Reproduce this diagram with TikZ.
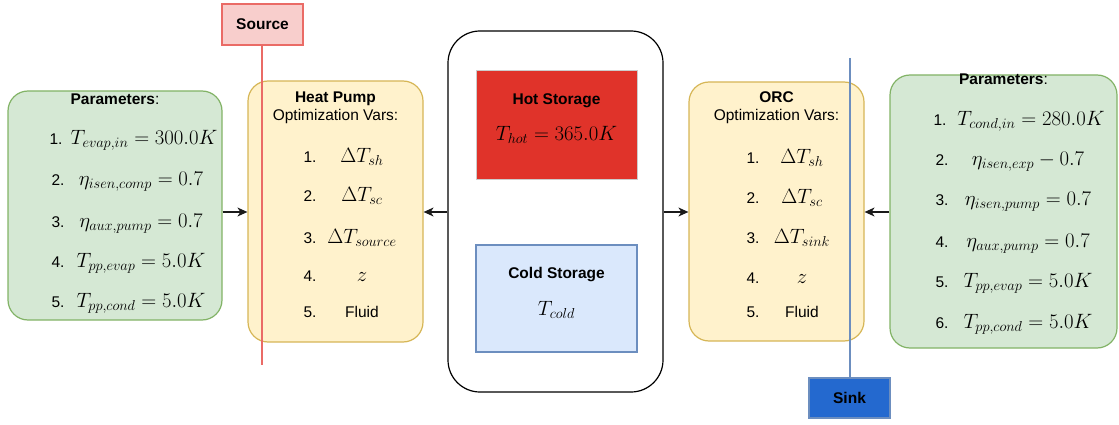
\documentclass[tikz,border=0pt]{standalone}
\usepackage[no-math]{fontspec}
\setmainfont{Liberation Sans}
\usetikzlibrary{arrows.meta}
\definecolor{gfill}{HTML}{D5E8D4}
\definecolor{gdraw}{HTML}{82B366}
\definecolor{yfill}{HTML}{FFF2CC}
\definecolor{ydraw}{HTML}{D6B656}
\definecolor{sfill}{HTML}{F8CECC}
\definecolor{sdraw}{HTML}{EA6B66}
\definecolor{hfill}{HTML}{E0332A}
\definecolor{hdraw}{HTML}{CCCCCC}
\definecolor{cfill}{HTML}{DAE8FC}
\definecolor{cdraw}{HTML}{6C8EBF}
\definecolor{kfill}{HTML}{2469CF}
\definecolor{adraw}{HTML}{1A1A1A}
\tikzset{
  gbox/.style={fill=gfill, draw=gdraw, rounded corners=20pt, line width=1.2pt, inner sep=0pt},
  ybox/.style={fill=yfill, draw=ydraw, rounded corners=20pt, line width=1.2pt, inner sep=0pt},
  txt/.style={anchor=base, inner sep=0pt, font=\fontsize{15.5}{18}\selectfont},
  btxt/.style={anchor=base, inner sep=0pt, font=\fontsize{15.5}{18}\selectfont\bfseries},
  mth/.style={anchor=base, inner sep=0pt, font=\fontsize{19.5}{23}\selectfont},
  conn/.style={draw=adraw, line width=1.2pt, -{Stealth[length=10pt,width=9pt,inset=3pt]}},
}
\begin{document}
\begin{tikzpicture}[x=1pt,y=-1pt]
\useasboundingbox (0,0) rectangle (1119,425);

% left parameters
\node[gbox, minimum width=214pt, minimum height=229pt] (lg) at (115,205.5) {};
\node[txt] (lgt) at (115,105) {\textbf{Parameters}:};
\node[txt] (ln1) at (56,144.5) {1.};
\node[mth] (lf1) at (144,144.5) {$T_{evap,in} = 300.0K$};
\node[txt] (ln2) at (58,185.5) {2.};
\node[mth] (lf2) at (141,185.5) {$\eta_{isen,comp} = 0.7$};
\node[txt] (ln3) at (58,227.5) {3.};
\node[mth] (lf3) at (141,227.5) {$\eta_{aux,pump} = 0.7$};
\node[txt] (ln4) at (58,267.5) {4.};
\node[mth] (lf4) at (141,267.5) {$T_{pp,evap} = 5.0K$};
\node[txt] (ln5) at (58,307.5) {5.};
\node[mth] (lf5) at (141,307.5) {$T_{pp,cond} = 5.0K$};

% heat pump
\node[ybox, minimum width=175pt, minimum height=261pt] (hp) at (335.5,211.5) {};
\node[btxt] (hpt) at (335.5,102.5) {Heat Pump};
\node[txt] (hpo) at (335.5,120.5) {Optimization Vars:};
\node[txt] (hn1) at (310,162.5) {1.};
\node[mth] (hf1) at (362,162.5) {$\Delta T_{sh}$};
\node[txt] (hn2) at (310,201.5) {2.};
\node[mth] (hf2) at (362,201.5) {$\Delta T_{sc}$};
\node[txt] (hn3) at (310,243.5) {3.};
\node[mth] (hf3) at (362,243.5) {$\Delta T_{source}$};
\node[txt] (hn4) at (310,281.5) {4.};
\node[mth] (hf4) at (362,281.5) {$z$};
\node[txt] (hn5) at (310,317.5) {5.};
\node[txt] (hf5) at (362,317.5) {Fluid};

% source
\node[fill=sfill, draw=sdraw, line width=1.2pt, minimum width=81pt, minimum height=41pt, inner sep=0pt] (src) at (262.5,24.5) {};
\node[btxt] (srct) at (262.5,30) {Source};
\coordinate (srcend) at (262,365);
\draw[draw=sdraw, line width=1.2pt] (src.south -| srcend) -- (srcend);

% storage
\node[draw=black, fill=white, line width=1.2pt, rounded corners=32pt, minimum width=215pt, minimum height=361pt, inner sep=0pt] (st) at (555.5,211.5) {};
\node[fill=hfill, draw=hdraw, line width=1pt, minimum width=161pt, minimum height=108pt, inner sep=0pt] (hot) at (556.5,125) {};
\node[btxt] (hott) at (556.5,104.5) {Hot Storage};
\node[mth] (hotf) at (556.5,140.5) {$T_{hot} = 365.0K$};
\node[fill=cfill, draw=cdraw, line width=1.2pt, minimum width=161pt, minimum height=107pt, inner sep=0pt] (cold) at (556.5,298.5) {};
\node[btxt] (coldt) at (556.5,278.5) {Cold Storage};
\node[mth] (coldf) at (556.5,315) {$T_{cold}$};

% ORC
\node[ybox, minimum width=175pt, minimum height=259pt] (orc) at (776.5,211.5) {};
\node[btxt] (orct) at (776.5,102.5) {ORC};
\node[txt] (orco) at (776.5,120.5) {Optimization Vars:};
\node[txt] (on1) at (753,163.5) {1.};
\node[mth] (of1) at (802,163.5) {$\Delta T_{sh}$};
\node[txt] (on2) at (753,203.5) {2.};
\node[mth] (of2) at (802,203.5) {$\Delta T_{sc}$};
\node[txt] (on3) at (753,243.5) {3.};
\node[mth] (of3) at (802,243.5) {$\Delta T_{sink}$};
\node[txt] (on4) at (753,283.5) {4.};
\node[mth] (of4) at (802,283.5) {$z$};
\node[txt] (on5) at (753,317.5) {5.};
\node[txt] (of5) at (802,317.5) {Fluid};

% sink
\node[fill=kfill, draw=cdraw, line width=1.2pt, minimum width=81pt, minimum height=40pt, inner sep=0pt] (sink) at (849.5,398) {};
\node[btxt] (sinkt) at (849.5,403.5) {Sink};
\coordinate (sinkbeg) at (850,58);
\draw[draw=cdraw, line width=1.2pt] (sinkbeg) -- (sinkbeg |- sink.north);

% right parameters
\node[gbox, minimum width=227pt, minimum height=273pt] (rg) at (1003.5,211.5) {};
\node[txt] (rgt) at (1003.5,84.5) {\textbf{Parameters}:};
\node[txt] (rn1) at (940,125.5) {1.};
\node[mth] (rf1) at (1031,125.5) {$T_{cond,in} = 280.0K$};
\node[txt] (rn2) at (942,165.5) {2.};
\node[mth] (rf2) at (1028,165.5) {$\eta_{isen,exp} - 0.7$};
\node[txt] (rn3) at (942,205.5) {3.};
\node[mth] (rf3) at (1028,205.5) {$\eta_{isen,pump} = 0.7$};
\node[txt] (rn4) at (942,247.5) {4.};
\node[mth] (rf4) at (1028,247.5) {$\eta_{aux,pump} = 0.7$};
\node[txt] (rn5) at (942,287.5) {5.};
\node[mth] (rf5) at (1028,287.5) {$T_{pp,evap} = 5.0K$};
\node[txt] (rn6) at (942,328.5) {6.};
\node[mth] (rf6) at (1028,328.5) {$T_{pp,cond} = 5.0K$};

% connectors
\draw[conn] (lg.east |- 0,212) -- (hp.west |- 0,212);
\draw[conn] (st.west |- 0,212) -- (hp.east |- 0,212);
\draw[conn] (st.east |- 0,212) -- (orc.west |- 0,212);
\draw[conn] (rg.west |- 0,212) -- (orc.east |- 0,212);
\end{tikzpicture}
\end{document}
